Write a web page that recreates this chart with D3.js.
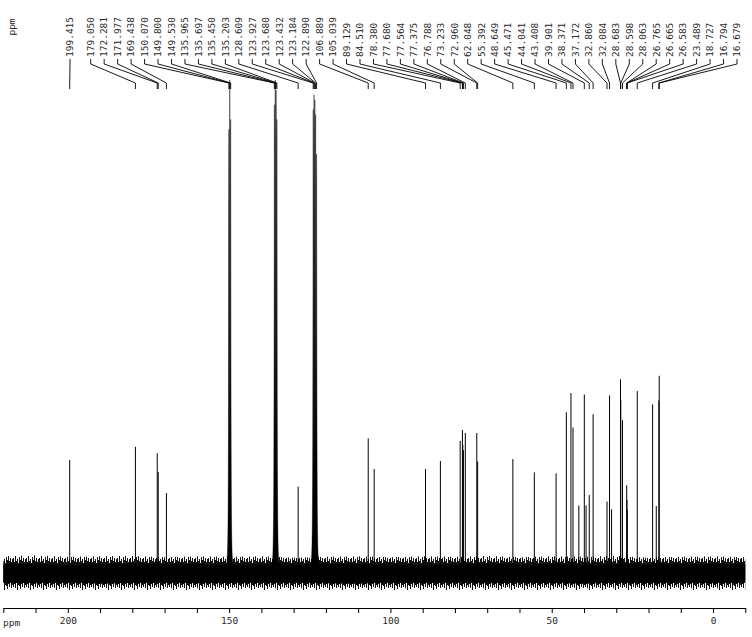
<!DOCTYPE html>
<html><head><meta charset="utf-8">
<script src="https://cdn.jsdelivr.net/npm/d3@7"></script>
<style>body{margin:0;background:#fff}svg{display:block}</style>
</head><body><svg id="c" width="752" height="637"></svg>
<script>
// ---- data ----
const peakPpm = [199.415,179.050,172.281,171.977,169.438,150.070,149.800,149.530,135.965,135.697,135.450,135.203,128.609,123.927,123.680,123.432,123.184,122.890,106.889,105.039,89.129,84.510,78.380,77.680,77.564,77.375,76.788,73.233,72.960,62.048,55.392,48.649,45.471,44.041,43.408,39.901,38.371,37.172,32.860,32.084,28.683,28.598,28.063,26.765,26.665,26.583,23.489,18.727,16.794,16.679];
const peakLabels = ["199.415","179.050","172.281","171.977","169.438","150.070","149.800","149.530","135.965","135.697","135.450","135.203","128.609","123.927","123.680","123.432","123.184","122.890","106.889","105.039","89.129","84.510","78.380","77.680","77.564","77.375","76.788","73.233","72.960","62.048","55.392","48.649","45.471","44.041","43.408","39.901","38.371","37.172","32.860","32.084","28.683","28.598","28.063","26.765","26.665","26.583","23.489","18.727","16.794","16.679"];
const peakHeight = [22.9,25.6,24.3,20.5,16.2,90,100,92,95,100,98,92,17.5,94,97,96,93,85,27.3,21.1,21.1,22.7,26.8,29.0,26.0,24.9,28.4,28.4,22.6,23.1,20.4,20.2,32.6,36.5,29.5,36.2,15.8,32.2,14.5,36.0,39.3,35.1,31.0,17.8,14.8,12.8,36.9,34.2,35.0,40.0];
const extraPpm = [41.6,39.35,31.45,17.6];
const extraHeight = [13.7,13.7,12.9,13.6];
// noise envelope, every 10 ppm from 220 to -10
const noisePpm = [220,210,200,190,180,170,160,150,140,130,120,110,100,90,80,70,60,50,40,30,20,10,0,-10];
const noiseHigh = [3.4,3.6,3.3,3.4,3.5,3.2,3.4,3.3,3.4,3.1,3.3,3.4,3.2,3.4,3.3,3.5,3.2,3.4,3.3,3.5,3.1,3.3,3.4,3.2];
const noiseLow = [-3.6,-3.8,-3.4,-4.0,-3.7,-3.5,-3.8,-3.6,-3.7,-3.5,-3.8,-3.9,-3.6,-3.7,-3.5,-3.8,-3.6,-3.7,-3.9,-3.5,-3.7,-3.6,-3.8,-3.5];
const coreHigh = [1.7,1.9,1.6,1.8,2.0,1.7,1.8,1.6,1.8,1.7,1.9,1.8,1.7,1.6,1.8,1.9,1.7,1.8,1.6,1.8,1.7,1.9,1.8,1.7];
const coreLow = [-1.9,-2.1,-1.8,-2.2,-2.0,-1.9,-2.1,-2.0,-1.9,-1.8,-2.1,-2.2,-1.9,-2.0,-1.8,-2.1,-1.9,-2.0,-2.2,-1.9,-2.0,-1.9,-2.1,-1.8];
const axisMajor = [200,150,100,50,0];
const axisMinor = [220,210,200,190,180,170,160,150,140,130,120,110,100,90,80,70,60,50,40,30,20,10,0,-10];

// ---- scales ----
const svg = d3.select("#c");
const x = d3.scaleLinear().domain([220,-10]).range([3.3,745.3]);
const y = d3.scaleLinear().domain([0,100]).range([573,80]);
const labelPos = d3.scalePoint().domain(d3.range(1,peakPpm.length)).range([90.7,737]);
const lx = i => i === 0 ? x(peakPpm[0]) + 0.3 : labelPos(i);

// ---- noise texture (style only) ----
const tile = [[4,33],[8,30],[2,34],[7,29],[5,36],[9,31],[3,32],[6,35],[1,30],[7,33],[4,29],[8,34],[5,31]];
const pat = svg.append("defs").append("pattern").attr("id","nz")
  .attr("patternUnits","userSpaceOnUse").attr("x",0).attr("y",554)
  .attr("width",tile.length).attr("height",38);
pat.selectAll("rect").data(tile).join("rect")
  .attr("x",(d,i)=>i).attr("y",d=>d[0]).attr("width",1).attr("height",d=>d[1]-d[0])
  .attr("fill","#111");

// ---- noise band ----
const noise = noisePpm.map((p,i)=>({p,hi:noiseHigh[i],lo:noiseLow[i],ch:coreHigh[i],cl:coreLow[i]}));
svg.append("path").datum(noise)
  .attr("d", d3.area().x(d=>x(d.p)).y0(d=>y(d.lo)).y1(d=>y(d.hi)))
  .attr("fill","url(#nz)");
svg.append("path").datum(noise)
  .attr("d", d3.area().x(d=>x(d.p)).y0(d=>y(d.cl)).y1(d=>y(d.ch)))
  .attr("fill","#000");

// ---- peaks ----
const peaks = peakPpm.map((p,i)=>({p,h:peakHeight[i]})).concat(extraPpm.map((p,i)=>({p,h:extraHeight[i]})));
const big = peaks.filter(d=>d.h>50), small = peaks.filter(d=>d.h<=50);
svg.append("g").selectAll("line").data(small).join("line")
  .attr("x1",d=>x(d.p)).attr("x2",d=>x(d.p))
  .attr("y1",y(-1)).attr("y2",d=>y(d.h))
  .attr("stroke","#000").attr("stroke-width",1);
const w = 0.1;
const offs = d3.range(-2,2.001,0.02);
const lor = d3.area().x(d=>x(d[0])).y0(y(0)).y1(d=>y(d[1]));
svg.append("g").selectAll("path").data(big).join("path")
  .attr("d", d=>lor(offs.map(o=>[d.p+o, d.h*w*w/(w*w+o*o)])))
  .attr("fill","#000").attr("stroke","#000").attr("stroke-width",0.4);

// ---- labels & leaders ----
const lab = svg.append("g").attr("font-family","DejaVu Sans Mono, monospace").attr("font-size","9.5px").attr("fill","#2a2a2a");
lab.selectAll("text").data(peakLabels).join("text")
  .attr("transform",(d,i)=>`translate(${lx(i)},57) rotate(-90)`)
  .attr("dy","0.35em").attr("text-anchor","start").text(d=>d);
svg.append("g").selectAll("path").data(peakPpm).join("path")
  .attr("d",(p,i)=>`M${lx(i)},59V64L${x(p)},83V89`)
  .attr("fill","none").attr("stroke","#000").attr("stroke-width",0.9);
svg.append("text").attr("transform","translate(12,27) rotate(-90)")
  .attr("dy","0.35em").attr("text-anchor","middle")
  .attr("font-family","DejaVu Sans Mono, monospace").attr("font-size","9.5px").attr("fill","#2a2a2a").text("ppm");

// ---- axis ----
const ax = svg.append("g").attr("transform","translate(0,608)");
ax.call(d3.axisBottom(x).tickValues(axisMinor).tickSize(5).tickSizeOuter(0).tickFormat(""));
ax.call(g=>g.selectAll("path,line").attr("stroke","#000"));
const ax2 = svg.append("g").attr("transform","translate(0,608)");
ax2.call(d3.axisBottom(x).tickValues(axisMajor).tickSize(0).tickPadding(9).tickFormat(d3.format("d")));
ax2.select(".domain").remove();
ax2.selectAll("text").attr("font-family","DejaVu Sans Mono, monospace").attr("font-size","9.5px").attr("fill","#2a2a2a");
svg.append("text").attr("x",3).attr("y",626).attr("font-family","DejaVu Sans Mono, monospace")
  .attr("font-size","9.5px").attr("fill","#2a2a2a").text("ppm");
</script></body></html>
